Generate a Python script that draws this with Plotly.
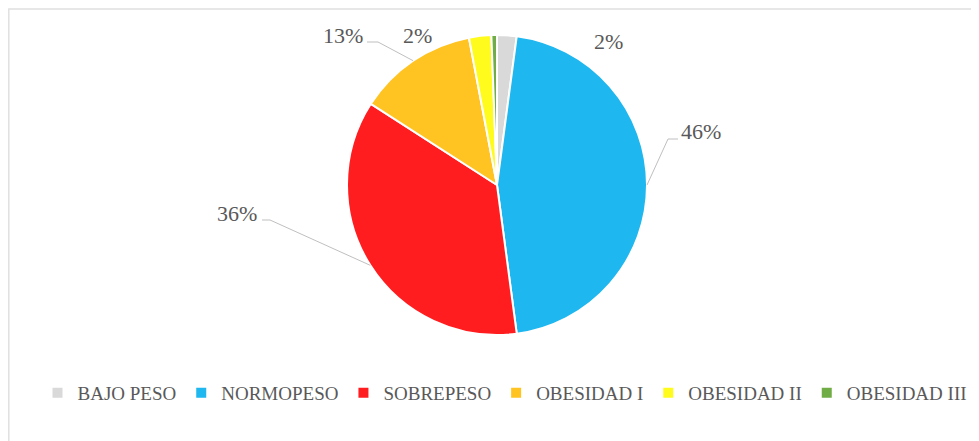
import math
import plotly.graph_objects as go

# data
categories = ["BAJO PESO", "NORMOPESO", "SOBREPESO", "OBESIDAD I", "OBESIDAD II", "OBESIDAD III"]
percentages = [2.1, 45.8, 36.2, 12.9, 2.4, 0.6]
colors = ["#D9D9D9", "#1EB7EF", "#FF1D20", "#FFC322", "#FFFB1C", "#70AD47"]

# layout: positions are given in window pixels (979x441); the page body
# has an 8px margin, so the figure itself is a bit smaller and offset
WIN_W, WIN_H = 979, 441
OFF = 8
W, H = WIN_W - OFF, WIN_H - OFF
CX, CY, R = 497, 185, 150
TEXT_COLOR = "#595959"
FONT = "Liberation Serif, Times New Roman, serif"

# label centre + optional leader line (elbow x, elbow y, end x)
label_pos = {
    "BAJO PESO": (608, 41, None),
    "NORMOPESO": (701, 131, (668, 139, 678)),
    "SOBREPESO": (237, 214, (270, 220, 262)),
    "OBESIDAD I": (343, 36, (378, 42, 367)),
    "OBESIDAD II": (417, 36, None),
}


def px(x):
    return (x - OFF) / W


def py(y):
    return 1 - (y - OFF) / H


fig = go.Figure(go.Pie(
    labels=categories,
    values=percentages,
    marker=dict(colors=colors, line=dict(color="white", width=2)),
    sort=False,
    direction="clockwise",
    rotation=0,
    textinfo="none",
    hoverinfo="label+percent",
    domain=dict(x=[px(CX - R), px(CX + R)], y=[py(CY + R), py(CY - R)]),
))

total = sum(percentages)
cum = 0
# chart frame (only the top and left edges fall inside the crop)
shapes = [dict(type="rect", xref="paper", yref="paper",
               x0=px(8.8), x1=1.05, y0=-0.05, y1=py(9),
               line=dict(color="#E0E0E0", width=1.5))]
annotations = []
for cat, val in zip(categories, percentages):
    mid = (cum + val / 2) / total * 2 * math.pi
    cum += val
    if cat not in label_pos:
        continue
    tx, ty, line = label_pos[cat]
    annotations.append(dict(
        x=px(tx), y=py(ty), xref="paper", yref="paper",
        xanchor="center", yanchor="middle",
        text=f"{round(val / total * 100)}%", showarrow=False,
        font=dict(family=FONT, size=22, color=TEXT_COLOR),
    ))
    if line:
        ex, ey, endx = line
        tipx = CX + R * math.sin(mid)
        tipy = CY - R * math.cos(mid)
        shapes.append(dict(
            type="path", xref="paper", yref="paper",
            path=f"M {px(tipx)},{py(tipy)} L {px(ex)},{py(ey)} L {px(endx)},{py(ey)}",
            line=dict(color="#BFBFBF", width=1),
        ))

fig.update_layout(
    width=W, height=H,
    margin=dict(l=0, r=0, t=0, b=0),
    paper_bgcolor="white",
    plot_bgcolor="white",
    shapes=shapes,
    annotations=annotations,
    showlegend=True,
    legend=dict(
        orientation="h", x=px(505), xanchor="center", y=py(393), yanchor="middle",
        font=dict(family=FONT, size=19, color=TEXT_COLOR),
        itemwidth=30, tracegroupgap=0,
    ),
)

fig.write_html("out.html")
